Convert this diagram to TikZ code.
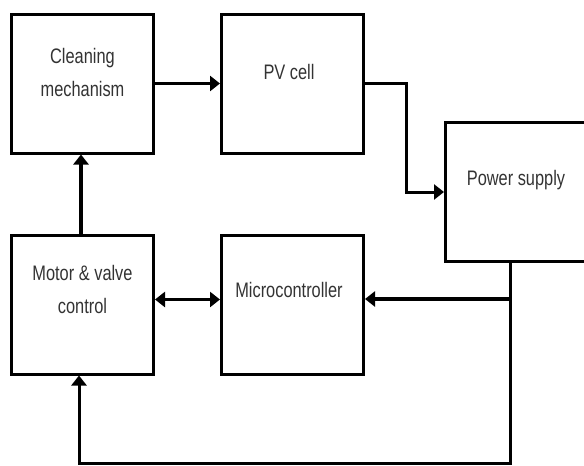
\documentclass[tikz,border=0pt]{standalone}
\usepackage{fontspec}
\setmainfont{Liberation Sans}[FakeStretch=0.78]
\usetikzlibrary{arrows.meta, positioning}

\begin{document}
\begin{tikzpicture}[x=1pt, y=-1pt, >={Triangle[length=10pt,width=15pt]}, node distance=65pt,
    blk/.style={rectangle, draw, line width=3pt, minimum width=142pt, minimum height=139pt},
    txt/.style={font=\fontsize{21}{33}\selectfont, text=black!80, align=center},
    ln/.style={line width=3.5pt}]
\clip (0,0) rectangle (584,466);
\node[blk] (clean) at (82.5,83.5) {};
\node[blk, right=of clean] (pv) {};
\node[blk, below=79pt of clean] (motor) {};
\node[blk, right=of motor] (micro) {};
\node[blk] (power) at (516.5,192) {};
% labels sit high in the boxes
\node[txt] (cleantxt) at (82.5,72) {Cleaning\\mechanism};
\node[txt] (pvtxt) at (289,72) {PV cell};
\node[txt] (powertxt) at (516,180) {Power supply};
\node[txt] (motortxt) at (82.5,289) {Motor \& valve\\control};
\node[txt] (microtxt) at (289,290) {Microcontroller};
\coordinate (drop) at ([xshift=-6.5pt]power.south);
\coordinate (tap) at (drop |- 0,299);
\coordinate (corner) at (drop |- 0,463);
\draw[ln,->] (clean) -- (pv);
\draw[line width=3pt,->] (pv.east) -- ++(41,0) |- (power);
\draw[ln,<->] ([yshift=5pt]motor.east) -- ([yshift=5pt]micro.east -| micro.west);
\draw[ln,->] (tap) -- (tap -| micro.east);
\draw[line width=3pt,->] (drop) -- (corner) -| ([xshift=-3.5pt]motor.south);
\draw[ln,->] ([xshift=-1.5pt]motor.north) -- ([xshift=-1.5pt]clean.south);
\end{tikzpicture}
\end{document}
